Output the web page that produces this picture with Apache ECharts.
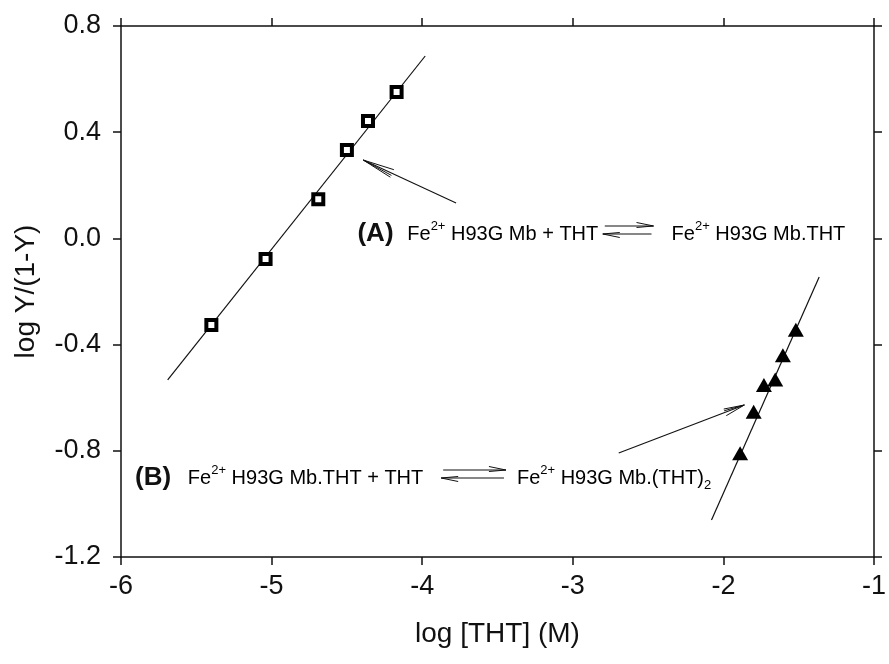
<!DOCTYPE html>
<html>
<head>
<meta charset="utf-8">
<script src="https://cdn.jsdelivr.net/npm/echarts@6/dist/echarts.min.js"></script>
<style>
  html, body { margin: 0; padding: 0; background: #fff; }
  #chart { width: 889px; height: 664px; }
</style>
</head>
<body>
<div id="chart"></div>
<script>
// Hill plot: log Y/(1-Y) against log [THT] for the two binding steps.
const thtA  = [-5.40, -5.04, -4.69, -4.50, -4.36, -4.17];
const hillA = [-0.326, -0.078, 0.147, 0.333, 0.442, 0.551];
const thtB  = [-1.889, -1.799, -1.731, -1.656, -1.605, -1.519];
const hillB = [-0.809, -0.653, -0.552, -0.531, -0.440, -0.344];

// End points of the fitted straight lines
const fitA = [[-5.69, -0.533], [-3.98, 0.687]];
const fitB = [[-2.079, -1.061], [-1.364, -0.145]];

// Pointer arrows, [tail, head]
const pointerA = [[-3.775, 0.133], [-4.391, 0.295]];
const pointerB = [[-2.695, -0.808], [-1.861, -0.6275]];

// Axis ticks
const xTicks = [-6, -5, -4, -3, -2, -1];
const yTicks = [-1.2, -0.8, -0.4, 0.0, 0.4, 0.8];

// Reaction schemes written on the plot
const schemes = [
  {
    tag: '(A)',
    lhs: '{n|Fe}{s|2+}{n| H93G Mb + THT}',
    rhs: '{n|Fe}{s|2+}{n| H93G Mb.THT}',
    y: 0.0166, tagX: -4.43, lhsX: -4.099, arrowX: [-2.801, -2.464], rhsX: -2.344
  },
  {
    tag: '(B)',
    lhs: '{n|Fe}{s|2+}{n| H93G Mb.THT + THT}',
    rhs: '{n|Fe}{s|2+}{n| H93G Mb.(THT)}{b|2}',
    y: -0.9025, tagX: -5.907, lhsX: -5.556, arrowX: [-3.874, -3.444], rhsX: -3.371
  }
];

const FONT = '"Liberation Sans", Arial, Helvetica, sans-serif';
const richStyles = {
  n: { fontSize: 20, fontFamily: FONT, color: '#111', lineHeight: 28, verticalAlign: 'middle' },
  s: { fontSize: 13, fontFamily: FONT, color: '#111', lineHeight: 14, verticalAlign: 'top' },
  b: { fontSize: 13, fontFamily: FONT, color: '#111', lineHeight: 12, verticalAlign: 'bottom' }
};

const toPairs = (xs, ys) => xs.map((x, i) => [x, ys[i]]);

function seg(x1, y1, x2, y2, w) {
  return { type: 'line', shape: { x1, y1, x2, y2 },
           style: { stroke: '#111', lineWidth: w || 1 } };
}

// Long open arrowhead pointing at a data point
function pointer(api, pair, len, spread) {
  const t = api.coord(pair[0]);
  const h = api.coord(pair[1]);
  const ang = Math.atan2(t[1] - h[1], t[0] - h[0]);
  const out = [seg(t[0], t[1], h[0], h[1], 1.1)];
  [-spread, spread * 0.5, spread].forEach(d => {
    out.push(seg(h[0], h[1], h[0] + len * Math.cos(ang + d), h[1] + len * Math.sin(ang + d), 1));
  });
  return out;
}

function renderNotes(params, api) {
  const children = [];
  schemes.forEach(s => {
    const c = api.coord([s.tagX, s.y]);
    children.push({ type: 'text', x: c[0], y: c[1],
      style: { text: s.tag, font: 'bold 26px ' + FONT, fill: '#111', align: 'left', verticalAlign: 'middle' } });
    const l = api.coord([s.lhsX, s.y]);
    children.push({ type: 'text', x: l[0], y: l[1],
      style: { text: s.lhs, rich: richStyles, align: 'left', verticalAlign: 'middle' } });
    const r = api.coord([s.rhsX, s.y]);
    children.push({ type: 'text', x: r[0], y: r[1],
      style: { text: s.rhs, rich: richStyles, align: 'left', verticalAlign: 'middle' } });
    // equilibrium half-arrows
    const a1 = api.coord([s.arrowX[0], s.y]);
    const a2 = api.coord([s.arrowX[1], s.y]);
    const yt = a1[1] - 8, yb = a1[1];
    children.push(seg(a1[0] + 2, yt, a2[0], yt, 1.1));
    children.push(seg(a2[0], yt, a2[0] - 17, yt - 3.5, 1));
    children.push(seg(a2[0], yt, a2[0] - 17, yt + 1.5, 1));
    children.push(seg(a1[0], yb, a2[0] - 2, yb, 1.1));
    children.push(seg(a1[0], yb, a1[0] + 17, yb + 3.5, 1));
    children.push(seg(a1[0], yb, a1[0] + 17, yb - 1.5, 1));
  });
  pointer(api, pointerA, 32, 0.13).forEach(e => children.push(e));
  pointer(api, pointerB, 21, 0.17).forEach(e => children.push(e));
  return { type: 'group', children };
}

const axisLineStyle = { color: '#111', width: 1.5 };
const tickStyle = { show: true, inside: false, length: 8, lineStyle: { color: '#111', width: 1.5 } };
const xRange = { min: xTicks[0], max: xTicks[xTicks.length - 1], interval: 1 };
const yRange = { min: yTicks[0], max: yTicks[yTicks.length - 1], interval: 0.4 };

const chart = echarts.init(document.getElementById('chart'), null, { renderer: 'canvas' });
chart.setOption({
  animation: false,
  backgroundColor: '#fff',
  grid: { left: 121, right: 13, top: 26, bottom: 107 },
  xAxis: [
    Object.assign({
      type: 'value', position: 'bottom',
      name: 'log [THT] (M)', nameLocation: 'middle', nameGap: 63,
      nameTextStyle: { fontFamily: FONT, fontSize: 28, color: '#111' },
      axisLine: { show: true, lineStyle: axisLineStyle, onZero: false },
      axisTick: tickStyle,
      axisLabel: { fontFamily: FONT, fontSize: 27, color: '#111', margin: 16 },
      splitLine: { show: false }
    }, xRange),
    Object.assign({
      type: 'value', position: 'top',
      axisLine: { show: true, lineStyle: axisLineStyle, onZero: false },
      axisTick: tickStyle, axisLabel: { show: false }, splitLine: { show: false }
    }, xRange)
  ],
  yAxis: [
    Object.assign({
      type: 'value', position: 'left',
      name: 'log Y/(1-Y)', nameLocation: 'middle', nameGap: 81, nameRotate: 90,
      nameTextStyle: { fontFamily: FONT, fontSize: 28, color: '#111' },
      axisLine: { show: true, lineStyle: axisLineStyle, onZero: false },
      axisTick: tickStyle,
      axisLabel: { fontFamily: FONT, fontSize: 27, color: '#111', margin: 20,
                   formatter: v => v.toFixed(1) },
      splitLine: { show: false }
    }, yRange),
    Object.assign({
      type: 'value', position: 'right',
      axisLine: { show: true, lineStyle: axisLineStyle, onZero: false },
      axisTick: tickStyle, axisLabel: { show: false }, splitLine: { show: false }
    }, yRange)
  ],
  series: [
    { type: 'line', data: fitA, symbol: 'none', lineStyle: { color: '#111', width: 1.2 }, silent: true },
    { type: 'line', data: fitB, symbol: 'none', lineStyle: { color: '#111', width: 1.2 }, silent: true },
    { type: 'scatter', data: toPairs(thtA, hillA), symbol: 'rect', symbolSize: 10,
      itemStyle: { color: '#fff', borderColor: '#000', borderWidth: 4, opacity: 1 }, z: 5 },
    { type: 'scatter', data: toPairs(thtB, hillB), symbol: 'triangle', symbolSize: [16, 14],
      itemStyle: { color: '#000', opacity: 1 }, z: 5 },
    { type: 'custom', data: [[0, 0]], renderItem: renderNotes, silent: true, z: 6 }
  ]
});
</script>
</body>
</html>
